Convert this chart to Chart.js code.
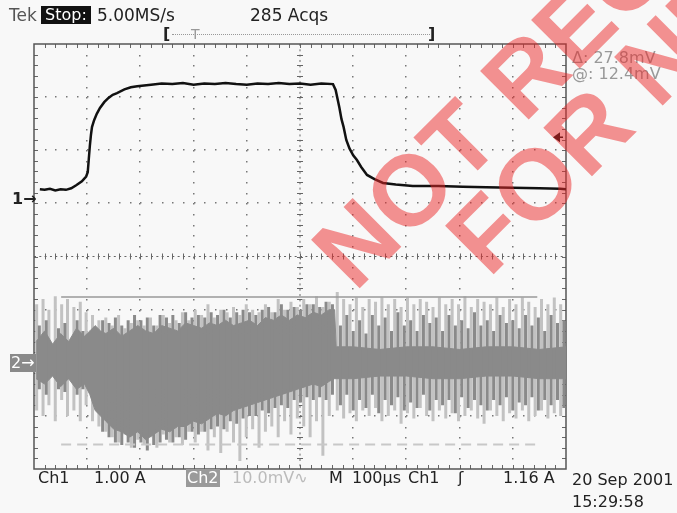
<!DOCTYPE html>
<html>
<head>
<meta charset="utf-8">
<script src="https://cdn.jsdelivr.net/npm/chart.js@4.4.0/dist/chart.umd.min.js"></script>
<style>
  body { margin: 0; background: #f8f8f8; }
  #wrap { position: relative; width: 677px; height: 513px; overflow: hidden; background: #f8f8f8;
          font-family: "DejaVu Sans", sans-serif; color: #222; }
  #wrap canvas { position: absolute; left: 0; top: 0; }
  .t { position: absolute; font-size: 16px; line-height: 18px; white-space: nowrap; }
  .top { font-size: 17px; }
  .inv { color: #fff; padding: 0 3px; }
  .wm { position: absolute; font-family: "Liberation Sans", Arial, sans-serif; font-weight: bold;
        font-size: 100px; line-height: 100px; color: rgba(236, 40, 40, 0.5); white-space: nowrap;
        transform-origin: 0 0; transform: rotate(-45deg); pointer-events: none; }
</style>
</head>
<body>
<div id="wrap">
  <canvas id="scope" width="677" height="513"></canvas>

  <!-- top status line -->
  <div class="t top" style="left:9px;top:6px;color:#555">Tek</div>
  <div class="t inv" style="left:41px;top:6px;background:#111;padding:0 4px">Stop:</div>
  <div class="t top" style="left:97px;top:6px">5.00MS/s</div>
  <div class="t top" style="left:250px;top:6px">285 Acqs</div>

  <!-- record / trigger position bar -->
  <div class="t" style="left:163px;top:25px;font-weight:bold">[</div>
  <div style="position:absolute;left:172px;top:34px;width:258px;border-top:1px dotted #999"></div>
  <div class="t" style="left:191px;top:25px;color:#999;font-size:14px">T</div>
  <div class="t" style="left:428px;top:25px;font-weight:bold">]</div>

  <!-- cursor readout -->
  <div class="t" style="left:572px;top:49px;color:#999">Δ: 27.8mV</div>
  <div class="t" style="left:572px;top:65px;color:#999">@: 12.4mV</div>

  <!-- channel ground markers -->
  <div class="t" style="left:12px;top:190px;font-weight:bold">1→</div>
  <div class="t inv" style="left:10px;top:354px;background:#8a8a8a;padding:0 1px">2→</div>

  <!-- bottom settings line -->
  <div class="t" style="left:38px;top:469px">Ch1</div>
  <div class="t" style="left:94px;top:469px">1.00 A</div>
  <div class="t inv" style="left:186px;top:469px;background:#9a9a9a;padding:0 1px">Ch2</div>
  <div class="t" style="left:232px;top:469px;color:#bbb">10.0mV∿</div>
  <div class="t" style="left:329px;top:469px">M</div>
  <div class="t" style="left:352px;top:469px">100µs</div>
  <div class="t" style="left:408px;top:469px">Ch1</div>
  <div class="t" style="left:458px;top:469px">ʃ</div>
  <div class="t" style="left:503px;top:469px">1.16 A</div>
  <div class="t" style="left:572px;top:471px">20 Sep 2001</div>
  <div class="t" style="left:572px;top:493px">15:29:58</div>

  <!-- watermark -->
  <div class="wm" style="left:295px;top:233px">NOT RECOMMENDED</div>
  <div class="wm" style="left:429px;top:219px">FOR NEW DESIGNS</div>
</div>

<script>
// ---- Ch1: current probe, 1.00 A/div (time in µs, value in A)
const ch1Time = [11, 20, 30, 40, 50, 60, 70, 80, 90, 98, 101, 103, 105, 107, 109, 113, 118, 124, 132, 140,
  148, 156, 170, 182, 194, 220, 240, 260, 280, 300, 320, 340, 360, 380, 400, 420, 440, 460, 480, 500,
  520, 540, 562, 567, 574, 578, 582, 587, 593, 600, 607, 615, 626, 640, 656, 680, 712, 760, 806, 850,
  900, 950, 989, 1000];
const ch1Amps = [0.18, 0.17, 0.19, 0.16, 0.18, 0.17, 0.20, 0.26, 0.33, 0.42, 0.50, 0.75, 1.00, 1.20, 1.35, 1.48, 1.60, 1.71, 1.82, 1.90,
  1.96, 1.99, 2.06, 2.10, 2.12, 2.15, 2.17, 2.16, 2.18, 2.15, 2.17, 2.16, 2.18, 2.16, 2.15, 2.17, 2.16, 2.18, 2.16, 2.17,
  2.15, 2.17, 2.16, 2.05, 1.72, 1.50, 1.35, 1.11, 0.95, 0.82, 0.73, 0.60, 0.45, 0.37, 0.30, 0.27, 0.24, 0.24, 0.23, 0.22,
  0.21, 0.20, 0.19, 0.18];

// ---- Ch2: 10.0 mV/div ripple, light spikes (time µs, top / bottom mV)
const ch2SpikeTime = [5, 17, 28, 40, 52, 63, 75, 87, 98, 110, 122, 135, 147, 159, 171, 183, 195, 207, 219, 231,
  243, 255, 267, 279, 291, 303, 315, 327, 339, 351, 363, 375, 387, 399, 411, 423, 435, 447, 459, 471,
  483, 495, 507, 519, 531, 543, 555, 570, 582, 594, 606, 618, 630, 642, 654, 666, 678, 690, 702, 714,
  726, 738, 750, 762, 774, 786, 798, 810, 822, 834, 846, 858, 870, 882, 894, 906, 918, 930, 942, 954,
  966, 978, 990];
const ch2SpikeTop = [11, 12, 10, 12.5, 11, 12, 10.5, 11.5, 9.5, 9, 8, 8.5, 7, 9, 6.5, 7.5, 8, 7, 8.5, 7,
  9, 7.5, 8, 9.5, 8, 10, 9, 11, 8.5, 10, 9.5, 10.5, 9, 11, 10, 9.5, 11, 9.5, 12, 10,
  11.5, 10.5, 12, 11, 12.5, 10.5, 11.5, 13.3, 12, 11, 12.3, 10.5, 12, 11.5, 12.3, 11, 12, 10.5, 12.3, 11,
  12, 11.5, 10.5, 12.3, 11, 12, 11, 12.5, 10.5, 12, 11.5, 11, 12.3, 10.5, 12, 11, 12.3, 11.5, 10.5, 12,
  11, 12.3, 11];
const ch2SpikeBottom = [-9, -10, -8, -11, -7, -10, -9, -11, -8, -11, -12, -13, -14, -15, -13.5, -16, -14.5, -15.5, -14, -16,
  -13.5, -15, -14, -15.5, -13, -15, -13, -16.5, -14, -17, -13, -15, -18.5, -14, -12.5, -16, -13, -12, -14, -11,
  -13.5, -10.5, -12, -14, -11, -17.5, -10, -9, -10.5, -9.5, -11, -9, -10, -8.5, -11, -10, -9, -11.5, -9.5, -10.5,
  -8.5, -10, -11, -9, -10.5, -9.5, -11, -10, -9, -10.5, -11.5, -9, -10, -11, -9.5, -10.5, -9, -11, -10, -9,
  -10.5, -9.5, -10];

// ---- Ch2 dense (dark) band envelope, mV
const ch2BandTime = [4, 20, 35, 50, 65, 80, 95, 105, 115, 125, 135, 150, 165, 180, 195, 210, 225, 240, 255, 270,
  285, 300, 315, 330, 345, 360, 375, 390, 405, 420, 435, 450, 465, 480, 495, 510, 525, 540, 555, 565,
  568, 600, 650, 700, 750, 800, 850, 900, 950, 1000];
const ch2BandTop = [4, 6, 3.5, 5.5, 4, 6.5, 5, 6, 7, 6, 5.5, 6.5, 5, 6, 7, 6, 5.5, 7, 6.5, 6,
  7.5, 7, 6.5, 7.5, 7, 8, 7, 7.5, 8, 7, 8.5, 8, 9, 8, 9, 8.5, 9.5, 9, 10, 10,
  3, 3, 2.5, 3, 3, 2.5, 3, 3, 2.5, 3];
const ch2BandBottom = [-3, -4, -2.5, -4.5, -3, -5, -4, -6, -9, -10, -11, -12.5, -13, -14, -13, -14.5, -13.5, -12.5, -13, -12,
  -12, -11, -11.5, -10.5, -9.5, -10, -9, -8.5, -8, -7.5, -7, -6.5, -6, -5.5, -5, -4.5, -4, -4.5, -3.5, -3,
  -3, -3, -2.5, -2.5, -3, -3, -2.5, -2.5, -3, -3];

// ---- Ch2 dark spikes between the light ones, mV
const ch2DarkTime = [10, 23, 46, 58, 81, 92, 129, 141, 153, 165, 177, 189, 201, 213, 225, 237, 249, 261, 273, 285,
  297, 309, 321, 333, 345, 357, 369, 381, 393, 405, 417, 429, 441, 453, 465, 477, 489, 501, 513, 525,
  537, 549, 561, 576, 588, 600, 612, 624, 636, 648, 660, 672, 684, 696, 708, 720, 732, 744, 756, 768,
  780, 792, 804, 816, 828, 840, 852, 864, 876, 888, 900, 912, 924, 936, 948, 960, 972, 984, 996];
const ch2DarkTop = [7, 8, 6.5, 7.5, 8, 6, 8, 7.5, 8.5, 7, 8, 9, 8, 8.5, 7, 9,
  8.5, 9, 7.5, 9.5, 8.5, 9, 8.5, 9.5, 9, 10, 8.5, 9.5, 10, 9.5, 9, 10, 10.5, 9.5, 11, 10,
  10.5, 10, 11, 11, 10.5, 11.5, 11, 7, 9, 6, 8, 5.5, 9, 7, 8.5, 6, 9.5, 7, 8, 6, 9,
  7.5, 8.5, 6, 9, 7, 8, 6.5, 9.5, 7, 8, 6, 9, 7.5, 8, 6.5, 9, 7, 8.5, 6, 9, 7.5, 8];
const ch2DarkBottom = [-5, -6, -5, -5.5, -6, -5, -13, -14, -15, -15.5, -15, -16, -15, -16.5, -15.5, -15,
  -14.5, -15, -14, -14.5, -13, -13.5, -13, -12.5, -12, -12.5, -11, -11.5, -10.5, -10, -10, -9, -9.5, -8.5, -8, -8.5,
  -7, -7.5, -6.5, -7, -6.5, -7, -6, -8, -6, -9, -7, -8.5, -6, -9.5, -7, -8, -6.5, -9, -7.5, -8.5, -6,
  -9, -7, -8, -7, -9.5, -6.5, -8.5, -7, -8, -9, -7, -8, -6.5, -9, -7.5, -8, -6.5, -9, -7, -8, -7, -8.5];

// ---- Ch2 horizontal bar cursors (mV) and their span (µs)
const cursorSpan = [51, 946];
const cursorA = 12.4;
const cursorB = 12.4 - 27.8;
const triggerLevel = 1.16; // A

// vertical settings
const ch1Offset = 1.085; // Ch1 ground, divisions above centre
const ch1PerDiv = 1.0;
const ch2Offset = -2;    // Ch2 ground, divisions
const ch2PerDiv = 10.0;

const toPoints = (xs, ys) => xs.map((x, i) => ({ x: x, y: ys[i] }));
const toSticks = (xs, tops, bottoms) => {
    const d = [];
    xs.forEach((x, i) => {
        d.push({ x: x, y: tops[i] }, { x: x, y: bottoms[i] }, { x: x, y: null });
    });
    return d;
};

// graticule: dotted divisions, centre cross with minor ticks, framed with edge ticks
const graticule = {
    id: 'graticule',
    beforeDatasetsDraw(chart) {
        const { ctx, chartArea: a, scales } = chart;
        const xs = scales.x, ds = scales.div;
        const xAt = (div) => xs.getPixelForValue(div * 100);
        const yAt = (div) => ds.getPixelForValue(div);
        ctx.save();
        ctx.fillStyle = '#777';
        for (let i = 1; i < 10; i++) {
            if (i === 5) continue;
            for (let j = 1; j < 40; j++) ctx.fillRect(Math.round(xAt(i)) - 1, Math.round(yAt(-4 + j * 0.2)), 1.5, 1.5);
        }
        for (let i = -3; i <= 3; i++) {
            if (i === 0) continue;
            for (let j = 1; j < 50; j++) ctx.fillRect(Math.round(xAt(j * 0.2)), Math.round(yAt(i)) - 1, 1.5, 1.5);
        }
        ctx.strokeStyle = '#666';
        ctx.lineWidth = 1;
        const cx = xAt(5), cy = yAt(0);
        ctx.setLineDash([2, 3.32]);
        ctx.beginPath();
        ctx.moveTo(a.left, cy); ctx.lineTo(a.right, cy);
        ctx.moveTo(cx, a.top); ctx.lineTo(cx, a.bottom);
        ctx.stroke();
        ctx.setLineDash([]);
        ctx.beginPath();
        for (let j = 1; j < 50; j++) {
            const px = Math.round(xAt(j * 0.2)) + 0.5;
            ctx.moveTo(px, cy - 3); ctx.lineTo(px, cy + 3);
            ctx.moveTo(px, a.top); ctx.lineTo(px, a.top + 4);
            ctx.moveTo(px, a.bottom); ctx.lineTo(px, a.bottom - 4);
        }
        for (let j = 1; j < 40; j++) {
            const py = Math.round(yAt(-4 + j * 0.2)) + 0.5;
            ctx.moveTo(cx - 3, py); ctx.lineTo(cx + 3, py);
            ctx.moveTo(a.left, py); ctx.lineTo(a.left + 4, py);
            ctx.moveTo(a.right, py); ctx.lineTo(a.right - 4, py);
        }
        ctx.stroke();
        ctx.strokeStyle = '#555';
        ctx.lineWidth = 1.5;
        ctx.strokeRect(a.left, a.top, a.right - a.left, a.bottom - a.top);
        ctx.restore();
    },
    afterDatasetsDraw(chart) {
        // trigger level arrow on the right edge
        const { ctx, chartArea: a, scales } = chart;
        const y = scales.y.getPixelForValue(triggerLevel);
        ctx.save();
        ctx.fillStyle = '#111';
        ctx.strokeStyle = '#111';
        ctx.beginPath();
        ctx.moveTo(a.right - 13, y);
        ctx.lineTo(a.right - 6, y - 5);
        ctx.lineTo(a.right - 6, y + 5);
        ctx.closePath();
        ctx.fill();
        ctx.lineWidth = 1.5;
        ctx.beginPath();
        ctx.moveTo(a.right - 8, y); ctx.lineTo(a.right - 3, y);
        ctx.stroke();
        ctx.restore();
    }
};

new Chart(document.getElementById('scope'), {
    type: 'line',
    data: {
        datasets: [
            { label: 'Ch1', data: toPoints(ch1Time, ch1Amps), yAxisID: 'y', borderColor: '#111', borderWidth: 2.5, order: 1 },
            { label: 'Cursor a', data: toPoints(cursorSpan, [cursorA, cursorA]), yAxisID: 'y2', borderColor: '#9a9a9a', borderWidth: 1.5, order: 2 },
            { label: 'Cursor b', data: toPoints(cursorSpan, [cursorB, cursorB]), yAxisID: 'y2', borderColor: '#c8c8c8', borderWidth: 2, borderDash: [10, 6], order: 3 },
            { label: 'Ch2 dark', data: toSticks(ch2DarkTime, ch2DarkTop, ch2DarkBottom), yAxisID: 'y2', borderColor: '#8a8a8a', borderWidth: 3, order: 4 },
            { label: 'Ch2 band top', data: toPoints(ch2BandTime, ch2BandTop), yAxisID: 'y2', borderColor: '#8a8a8a', borderWidth: 1, fill: false, order: 5 },
            { label: 'Ch2 band bottom', data: toPoints(ch2BandTime, ch2BandBottom), yAxisID: 'y2', borderColor: '#8a8a8a', borderWidth: 1, backgroundColor: '#8a8a8a', fill: '-1', order: 5 },
            { label: 'Ch2', data: toSticks(ch2SpikeTime, ch2SpikeTop, ch2SpikeBottom), yAxisID: 'y2', borderColor: '#c2c2c2', borderWidth: 3, order: 6 }
        ]
    },
    options: {
        responsive: false,
        animation: false,
        spanGaps: false,
        layout: { padding: { left: 34, right: 111, top: 44, bottom: 44 } },
        elements: { point: { radius: 0 }, line: { tension: 0, borderCapStyle: 'butt' } },
        plugins: { legend: { display: false }, tooltip: { enabled: false } },
        scales: {
            x: { type: 'linear', axis: 'x', min: 0, max: 1000, display: false },
            y: { type: 'linear', axis: 'y', min: (-4 - ch1Offset) * ch1PerDiv, max: (4 - ch1Offset) * ch1PerDiv, display: false },
            y2: { type: 'linear', axis: 'y', min: (-4 - ch2Offset) * ch2PerDiv, max: (4 - ch2Offset) * ch2PerDiv, display: false },
            div: { type: 'linear', axis: 'y', min: -4, max: 4, display: false }
        }
    },
    plugins: [graticule]
});
</script>
</body>
</html>
